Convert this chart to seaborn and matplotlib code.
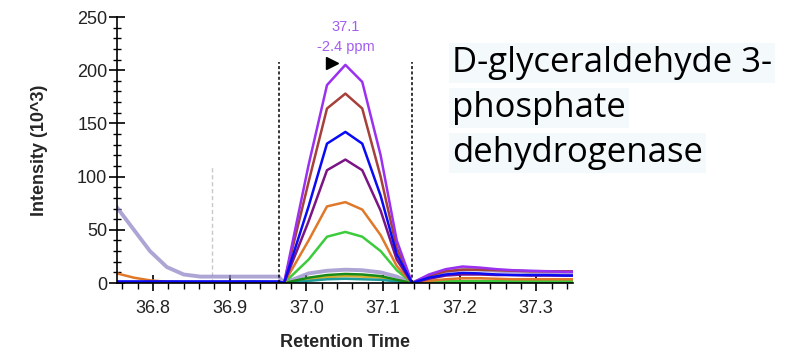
import matplotlib
matplotlib.use("Agg")
import matplotlib.pyplot as plt
import seaborn as sns
import pandas as pd
from matplotlib.ticker import MultipleLocator

# ---- data ----
pre_times = [36.731, 36.753, 36.775, 36.796, 36.818, 36.840, 36.862, 36.884, 36.905, 36.927, 36.949, 36.964]
peak_times = [36.971, 37.003, 37.027, 37.051, 37.073, 37.097, 37.118, 37.138]
post_times = [37.160, 37.182, 37.204, 37.226, 37.248, 37.270, 37.292, 37.314, 37.336, 37.358]

lavender = [90, 71, 50, 30, 15, 8, 6, 6, 6, 6, 6, 6,
            0, 9, 11.5, 12.5, 12, 10, 6, 0,
            6, 11, 13, 12.5, 11.5, 11, 10.5, 10.5, 10, 10]
gold = [0.3, 0.3, 0.3, 0.3, 0.3, 0.3, 0.3, 0.3, 0.3, 0.3, 0.3, 0.3,
        0, 3.5, 5.5, 6.5, 6, 5, 2.5, 0,
        1, 1.5, 2, 2, 2, 2, 2, 2, 2, 2]
teal = [0.3, 0.3, 0.3, 0.3, 0.3, 0.3, 0.3, 0.3, 0.3, 0.3, 0.3, 0.3,
        0, 2, 3.5, 4, 3.5, 3, 1.5, 0,
        0.5, 0.5, 0.5, 0.5, 0.5, 0.5, 0.5, 0.5, 0.5, 0.5]
darkgreen = [0.3, 0.3, 0.3, 0.3, 0.3, 0.3, 0.3, 0.3, 0.8, 1.2, 0.8, 0.3,
             0, 5, 7.5, 8.5, 8, 6.5, 3, 0,
             0.8, 1, 1.2, 1.2, 1.2, 1.2, 1.2, 1.2, 1.2, 1.2]
limegreen = [0.3, 0.3, 0.3, 0.3, 0.3, 0.3, 0.3, 0.3, 0.3, 0.3, 0.3, 0.3,
             0, 22, 43.5, 48, 43.5, 30, 12, 0,
             1, 1.5, 1.5, 1.5, 1.5, 1.5, 1.5, 1.5, 1.5, 1.5]
orange = [12, 9, 5, 2.5, 1.2, 0.8, 0.5, 0.5, 0.5, 0.5, 0.5, 0.5,
          0, 40, 72, 76, 69, 45, 16, 0,
          2, 3.5, 4.5, 4.5, 4, 3.5, 3.5, 3.5, 3.5, 3.5]
darkpurple = [0.5, 0.5, 0.5, 0.5, 0.5, 0.5, 0.5, 0.5, 0.5, 0.5, 0.5, 0.5,
              0, 58, 106, 116, 106, 68, 22, 0,
              4, 7, 8, 8, 7.5, 7.5, 7, 7, 7, 7]
brown = [0.5, 0.5, 0.5, 0.5, 0.5, 0.5, 0.5, 0.5, 0.5, 0.5, 0.5, 0.5,
         0, 95, 164, 178, 164, 100, 33, 0,
         7, 11, 12.5, 12.5, 12, 11.5, 11, 11, 11, 11]
purple = [0.5, 0.5, 0.5, 0.5, 0.5, 0.5, 0.5, 0.5, 0.5, 0.5, 0.5, 0.5,
          0, 111, 186, 205, 189, 120, 40, 0,
          8, 13, 15.5, 14.5, 13, 12, 11.5, 11, 10.5, 10.5]
blue = [1.5, 1.5, 1.5, 1.5, 1.5, 1.5, 1.5, 1.5, 1.5, 1.5, 1.5, 1.5,
        0, 72, 131, 142, 131, 82, 27, 0,
        5, 8, 9.5, 9, 8, 7.5, 7.5, 7.5, 7, 7]

series_names = ["gold", "teal", "darkgreen", "limegreen", "orange",
                "darkpurple", "brown", "purple", "blue"]
series_values = [gold, teal, darkgreen, limegreen, orange,
                 darkpurple, brown, purple, blue]
colors = {"lavender": "#8A80C4", "gold": "#D4B030", "teal": "#1E9C9C",
          "darkgreen": "#178A17", "limegreen": "#3CCB3C", "orange": "#E0782A",
          "darkpurple": "#7B1585", "brown": "#A5403A", "purple": "#9B30F0",
          "blue": "#0A0AF5"}

boundaries = [36.964, 37.1375]
marker_line = 36.8765
peak_rt = 37.051
annot_lines = ["37.1", "-2.4 ppm"]
title_lines = ["D-glyceraldehyde 3-", "phosphate", "dehydrogenase"]

times = pre_times + peak_times + post_times

# ---- figure ----
sns.set_style("white")
plt.rcParams["font.family"] = ["Liberation Sans", "DejaVu Sans"]
fig = plt.figure(figsize=(8.02, 3.58), dpi=100)
ax = fig.add_axes([117 / 802, 1 - 283 / 358, 456 / 802, 266 / 358])

df_lav = pd.DataFrame({"time": times, "intensity": lavender, "series": "lavender"})
sns.lineplot(data=df_lav, x="time", y="intensity", color=colors["lavender"],
             lw=2.8, alpha=0.7, sort=False, estimator=None, ax=ax, legend=False)

frames = [pd.DataFrame({"time": times, "intensity": v, "series": n})
          for n, v in zip(series_names, series_values)]
df = pd.concat(frames, ignore_index=True)
sns.lineplot(data=df, x="time", y="intensity", hue="series", hue_order=series_names,
             palette=colors, lw=1.8, sort=False, estimator=None, units="series",
             ax=ax, legend=False)

# boundaries and markers
ax.vlines(boundaries, 0, 208, colors="black", lw=1.1, linestyles=(0, (2.0, 1.5)), zorder=5)
ax.vlines([marker_line], 0, 109, colors="#c8c8c8", lw=1.0, linestyles=(0, (3, 2)), zorder=1)
ax.plot([37.033], [207], marker=">", ms=9, color="black", zorder=6, clip_on=False)
ax.text(peak_rt, 241, annot_lines[0], ha="center", va="center", color="#A25CF0", fontsize=10.5, clip_on=False)
ax.text(peak_rt, 222, annot_lines[1], ha="center", va="center", color="#A25CF0", fontsize=10.5, clip_on=False)

ax.set_xlim(36.753, 37.348)
ax.set_ylim(0, 250)
ax.xaxis.set_major_locator(MultipleLocator(0.1))
ax.xaxis.set_minor_locator(MultipleLocator(0.02))
ax.yaxis.set_major_locator(MultipleLocator(50))
ax.yaxis.set_minor_locator(MultipleLocator(10))
ax.xaxis.set_major_formatter(matplotlib.ticker.FormatStrFormatter("%.1f"))

for s in ["top", "right"]:
    ax.spines[s].set_visible(False)
for s in ["left", "bottom"]:
    ax.spines[s].set_color("black")
    ax.spines[s].set_linewidth(1.2)

ax.tick_params(axis="x", which="major", direction="inout", length=11, width=1.2,
               color="black", labelsize=13, labelcolor="#222222", pad=7)
ax.tick_params(axis="x", which="minor", direction="out", length=4, width=1.0, color="black")
ax.tick_params(axis="y", which="major", direction="inout", length=11, width=1.2,
               color="black", labelsize=13, labelcolor="#222222", pad=1.5)
ax.tick_params(axis="y", which="minor", direction="inout", length=6, width=1.0, color="black")
ax.tick_params(bottom=True, left=True, which="both")

ax.set_xlabel("Retention Time", fontsize=13, fontweight="bold", labelpad=12)
ax.set_ylabel("Intensity (10^3)", fontsize=13, fontweight="bold", labelpad=21)

# right-hand title
title_font = ["Open Sans", "DejaVu Sans"]
for i, line in enumerate(title_lines):
    fig.text(452 / 802, 1 - (72 + 45 * i) / 358, line, fontsize=25, family=title_font,
             color="black", ha="left", va="baseline",
             bbox=dict(facecolor="#F4F9FC", edgecolor="none", pad=2))

fig.savefig("out.png", dpi=100)
